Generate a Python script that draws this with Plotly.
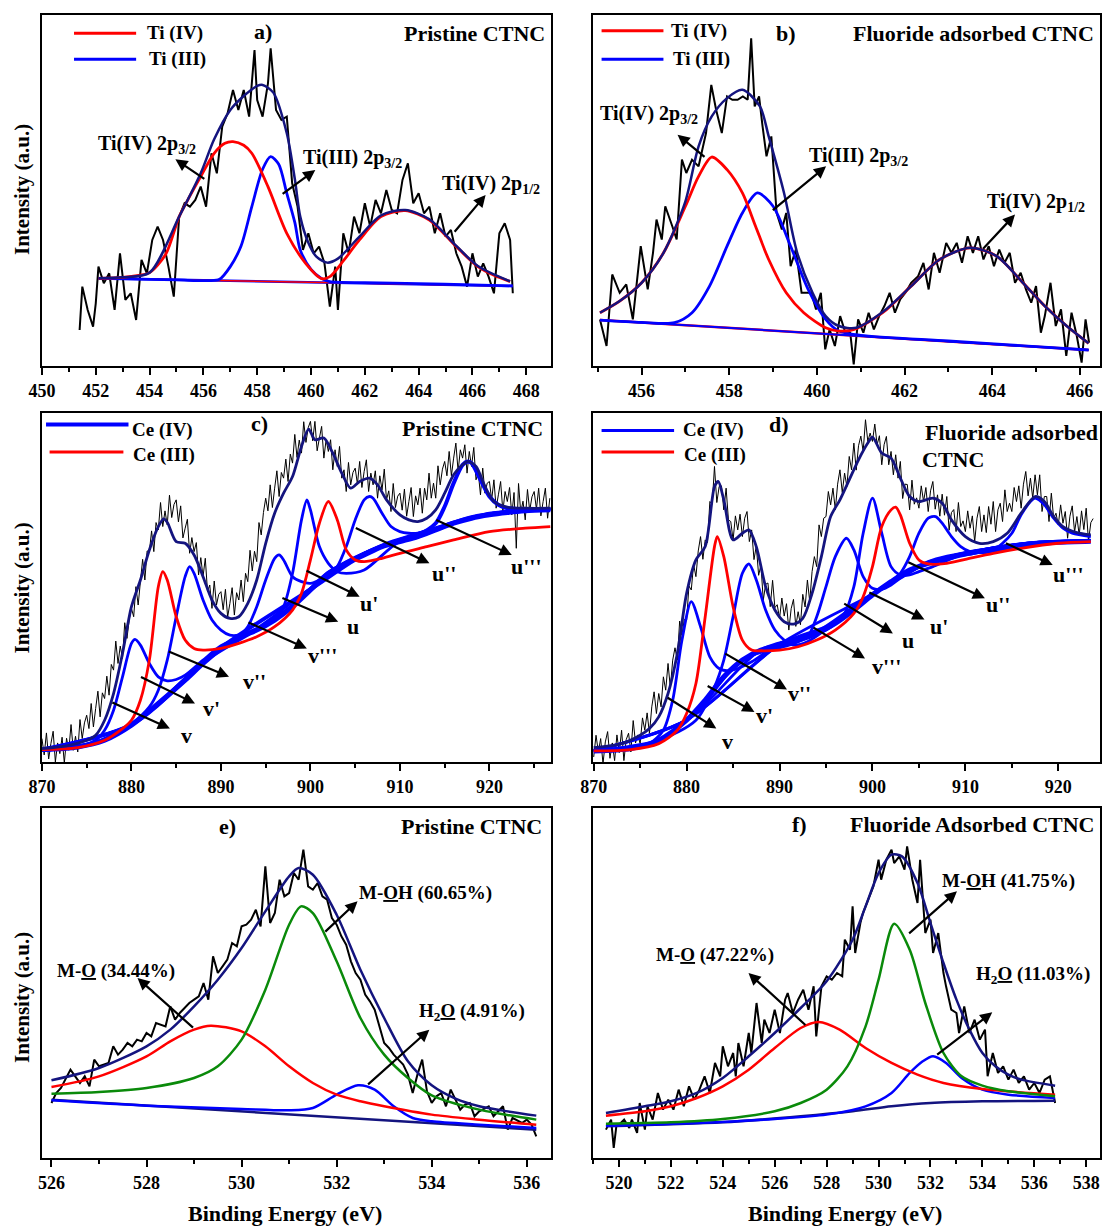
import plotly.graph_objects as go

FONT = "Liberation Serif"
RED = "#ff0000"
BLUE = "#0000ff"
NAVY = "#14147f"
GREEN = "#0a8a0a"
BLACK = "#000000"

# ---------------- Panel a : Ti 2p, pristine ----------------
A_RAW_X = [451.4, 451.5, 451.7, 451.9, 452.0, 452.1, 452.3, 452.5, 452.7, 452.9, 453.1, 453.3, 453.5, 453.7, 453.9,
           454.1, 454.3, 454.5, 454.7, 454.9, 455.1, 455.3, 455.5, 455.7, 455.9, 456.1, 456.3, 456.5, 456.7, 456.9,
           457.1, 457.3, 457.5, 457.7, 457.9, 458.0, 458.2, 458.4, 458.5, 458.7, 458.9, 459.1, 459.3, 459.5, 459.7,
           459.9, 460.1, 460.3, 460.5, 460.7, 460.9, 461.0, 461.2, 461.4, 461.6, 461.8, 462.0, 462.2, 462.4, 462.6,
           462.8, 463.0, 463.2, 463.4, 463.6, 463.8, 464.0, 464.2, 464.4, 464.6, 464.8, 465.0, 465.2, 465.4, 465.6,
           465.8, 466.0, 466.2, 466.4, 466.6, 466.8, 467.0, 467.2, 467.4, 467.5]
A_RAW_Y = [108, 238, 168, 118, 188, 298, 248, 278, 168, 338, 198, 218, 138, 318, 278,
           378, 418, 378, 298, 208, 448, 488, 478, 498, 538, 478, 638, 578, 718, 758,
           828, 768, 828, 748, 948, 798, 748, 848, 953, 768, 738, 748, 548, 478, 348,
           398, 338, 358, 308, 178, 298, 168, 398, 338, 448, 398, 488, 418, 498, 458,
           528, 468, 458, 558, 608, 488, 518, 458, 478, 398, 458, 388, 408, 338, 298,
           238, 338, 268, 308, 268, 218, 398, 428, 378, 218]
A_BG_X = [452.1, 467.5]
A_BG_Y = [263, 240]
A_TI4_X = [452.1, 453.0, 453.6, 454.0, 454.6, 455.1, 455.5, 455.9, 456.4, 456.8, 457.1, 457.5, 457.8, 458.4, 459.1,
           459.8, 460.4, 460.7, 461.2, 461.8, 462.6, 463.5, 464.4, 465.4, 466.2, 466.8, 467.4]
A_TI4_Y = [263, 266, 272, 280, 335, 448, 510, 568, 638, 668, 673, 662, 638, 538, 398,
           308, 262, 268, 315, 378, 448, 466, 438, 358, 298, 272, 253]
A_TI3_X = [452.1, 455.0, 456.2, 456.6, 457.0, 457.4, 457.8, 458.2, 458.5, 458.8, 459.1, 459.4, 459.6, 460.0, 460.4,
           460.7, 462.0, 464.0, 466.0, 467.5]
A_TI3_Y = [263, 258, 256, 260, 298, 360, 478, 590, 628, 605, 518, 430, 348, 290, 262,
           253, 250, 247, 243, 240]
A_ENV_X = [452.1, 453.0, 454.0, 455.1, 455.9, 456.4, 457.0, 457.5, 458.0, 458.2, 458.6, 459.1, 459.4, 459.6, 459.9,
           460.2, 460.6, 461.0, 461.8, 462.6, 463.5, 464.4, 465.4, 466.2, 467.4]
A_ENV_Y = [263, 266, 280, 448, 578, 680, 768, 810, 840, 843, 820, 698, 560, 448, 370,
           328, 310, 322, 388, 452, 468, 440, 360, 300, 254]

# ---------------- Panel b : Ti 2p, fluoride adsorbed ----------------
B_RAW_X = [455.05, 455.2, 455.33, 455.5, 455.65, 455.8, 455.98, 456.14, 456.26, 456.34, 456.46, 456.54, 456.7, 456.8,
           456.92, 457.02, 457.15, 457.3, 457.47, 457.59, 457.7, 457.83, 457.95, 458.07, 458.19, 458.31, 458.42, 458.5,
           458.58, 458.68, 458.76, 458.85, 458.96, 459.08, 459.2, 459.3, 459.4, 459.52, 459.65, 459.77, 459.87, 459.98,
           460.09, 460.19, 460.29, 460.41, 460.53, 460.65, 460.76, 460.84, 460.94, 461.06, 461.18, 461.3, 461.42, 461.54,
           461.66, 461.78, 461.9, 462.02, 462.15, 462.31, 462.43, 462.55, 462.67, 462.8, 462.95, 463.07, 463.19, 463.31,
           463.44, 463.56, 463.68, 463.8, 463.92, 464.04, 464.16, 464.28, 464.4, 464.52, 464.65, 464.77, 464.89, 465.0,
           465.11, 465.2, 465.33, 465.45, 465.57, 465.69, 465.81, 465.93, 466.04, 466.13, 466.21]
B_RAW_Y = [140, 60, 275, 220, 245, 140, 360, 230, 340, 440, 380, 480, 420, 380,
           620, 580, 620, 600, 700, 845, 770, 700, 810, 800, 800, 810, 800, 985,
           780, 810, 720, 630, 690, 460, 410, 460, 300, 350, 220, 220, 220, 170,
           220, 50, 110, 60, 150, 100, 100, 5, 140, 100, 160, 110, 150, 180,
           220, 160, 200, 220, 250, 270, 310, 230, 340, 280, 370, 340, 370, 310,
           390, 340, 390, 320, 360, 300, 350, 310, 340, 250, 280, 230, 190, 240,
           100, 150, 250, 120, 170, 30, 160, 90, 10, 140, 70]
B_BG_X = [455.05, 466.2]
B_BG_Y = [138, 48]
B_TI4_X = [455.05, 455.5, 456.0, 456.5, 457.0, 457.3, 457.6, 457.95, 458.3, 458.6, 458.9, 459.3, 459.7, 460.2, 460.5,
           460.85, 461.5, 462.15, 462.8, 463.5, 464.1, 464.7, 465.2, 465.7, 466.2]
B_TI4_Y = [160, 195, 250, 340, 480, 570, 628, 590, 520, 420, 320, 220, 160, 115, 105,
           110, 160, 240, 320, 355, 330, 250, 180, 120, 68]
B_TI3_X = [455.05, 456.0, 456.75, 457.15, 457.55, 457.95, 458.3, 458.64, 459.0, 459.4, 459.8, 460.2, 460.5, 461.0,
           463.0, 465.0, 466.2]
B_TI3_Y = [138, 131, 130, 160, 240, 360, 460, 520, 480, 360, 230, 140, 105, 92, 75, 58, 48]
B_ENV_X = [455.05, 455.5, 456.0, 456.5, 457.0, 457.3, 457.6, 457.95, 458.3, 458.7, 458.9, 459.25, 459.55, 459.9,
           460.2, 460.5, 460.9, 461.5, 462.15, 462.8, 463.5, 464.1, 464.7, 465.2, 465.7, 466.2]
B_ENV_Y = [160, 195, 250, 340, 495, 660, 750, 805, 830, 780, 690, 520, 340, 220,
           150, 120, 115, 162, 240, 320, 355, 330, 250, 180, 120, 68]

# ---------------- Panel c : Ce 3d, pristine ----------------
C_RAW_X = [870.0, 870.25, 870.5, 870.75, 871.0, 871.25, 871.5, 871.75, 872.0, 872.25, 872.5, 872.75,
           873.0, 873.25, 873.5, 873.75, 874.0, 874.25, 874.5, 874.75, 875.0, 875.25, 875.5, 875.75,
           876.0, 876.25, 876.5, 876.75, 877.0, 877.25, 877.5, 877.75, 878.0, 878.25, 878.5, 878.75,
           879.0, 879.25, 879.5, 879.75, 880.0, 880.25, 880.5, 880.75, 881.0, 881.25, 881.5, 881.75,
           882.0, 882.25, 882.5, 882.75, 883.0, 883.25, 883.5, 883.75, 884.0, 884.25, 884.5, 884.75,
           885.0, 885.25, 885.5, 885.75, 886.0, 886.25, 886.5, 886.75, 887.0, 887.25, 887.5, 887.75,
           888.0, 888.25, 888.5, 888.75, 889.0, 889.25, 889.5, 889.75, 890.0, 890.25, 890.5, 890.75,
           891.0, 891.25, 891.5, 891.75, 892.0, 892.25, 892.5, 892.75, 893.0, 893.25, 893.5, 893.75,
           894.0, 894.25, 894.5, 894.75, 895.0, 895.25, 895.5, 895.75, 896.0, 896.25, 896.5, 896.75,
           897.0, 897.25, 897.5, 897.75, 898.0, 898.25, 898.5, 898.75, 899.0, 899.25, 899.5, 899.75,
           900.0, 900.25, 900.5, 900.75, 901.0, 901.25, 901.5, 901.75, 902.0, 902.25, 902.5, 902.75,
           903.0, 903.25, 903.5, 903.75, 904.0, 904.25, 904.5, 904.75, 905.0, 905.25, 905.5, 905.75,
           906.0, 906.25, 906.5, 906.75, 907.0, 907.25, 907.5, 907.75, 908.0, 908.25, 908.5, 908.75,
           909.0, 909.25, 909.5, 909.75, 910.0, 910.25, 910.5, 910.75, 911.0, 911.25, 911.5, 911.75,
           912.0, 912.25, 912.5, 912.75, 913.0, 913.25, 913.5, 913.75, 914.0, 914.25, 914.5, 914.75,
           915.0, 915.25, 915.5, 915.75, 916.0, 916.25, 916.5, 916.75, 917.0, 917.25, 917.5, 917.75,
           918.0, 918.25, 918.5, 918.75, 919.0, 919.25, 919.5, 919.75, 920.0, 920.25, 920.5, 920.75,
           921.0, 921.25, 921.5, 921.75, 922.0, 922.25, 922.5, 922.75, 923.0, 923.25, 923.5, 923.75,
           924.0, 924.25, 924.5, 924.75, 925.0, 925.25, 925.5, 925.75, 926.0, 926.25, 926.5, 926.75]
C_RAW_Y = [70, 21, 87, 9, 55, 92, 0, 57, 25, 74, -3, 71,
           35, 112, 35, 77, 30, 127, 70, 117, 140, 100, 175, 105,
           160, 212, 135, 207, 190, 257, 200, 292, 275, 362, 295, 347,
           310, 417, 370, 427, 460, 435, 525, 470, 540, 607, 545, 632,
           630, 692, 630, 717, 695, 777, 705, 752, 710, 799, 732, 771,
           785, 719, 767, 671, 700, 727, 625, 672, 630, 657, 560, 612,
           555, 610, 510, 530, 460, 542, 470, 502, 510, 456, 517, 434,
           475, 522, 440, 507, 485, 545, 480, 565, 540, 634, 572, 631,
           600, 717, 680, 747, 790, 752, 830, 762, 820, 872, 795, 867,
           850, 907, 840, 922, 895, 981, 912, 964, 925, 1019, 957, 1001,
           1020, 962, 1020, 932, 970, 1005, 910, 965, 930, 965, 875, 935,
           885, 945, 850, 875, 810, 897, 830, 867, 880, 832, 900, 822,
           870, 905, 810, 865, 830, 872, 790, 857, 815, 877, 785, 812,
           750, 834, 762, 796, 805, 754, 817, 736, 780, 822, 735, 797,
           770, 820, 745, 820, 785, 865, 790, 835, 790, 887, 830, 877,
           900, 857, 930, 857, 910, 955, 870, 935, 910, 950, 865, 930,
           885, 942, 845, 867, 800, 880, 805, 835, 840, 785, 845, 760,
           800, 840, 750, 810, 780, 822, 740, 807, 640, 834, 747, 781,
           725, 816, 752, 794, 810, 757, 820, 737, 780, 820, 730, 790]
C_BG_X = [870, 874, 877, 880, 883, 886, 888, 890, 892, 894, 896, 898, 900, 902, 904, 906, 908, 910, 912, 914, 916,
          918, 920, 922, 924, 926.8]
C_BG_Y = [37, 45, 65, 110, 175, 245, 295, 340, 373, 395, 425, 465, 515, 565, 595, 620, 645, 660, 675, 695, 715,
          730, 740, 747, 752, 755]
C_CE3_X = [870, 874, 877, 879, 880, 881, 882, 883, 883.5, 884, 885, 886, 887, 888, 890, 892, 894, 896, 898, 899, 900,
           901, 902, 903, 904, 905, 906, 908, 910, 913, 916, 920, 924, 926.8]
C_CE3_Y = [37, 43, 65, 100, 125, 185, 305, 525, 570, 545, 435, 365, 340, 335, 340, 355, 375, 405, 455, 505, 605,
           715, 780, 725, 635, 605, 600, 610, 625, 645, 665, 690, 700, 705]
C_V_X = [870, 874, 876, 877, 878, 879, 880, 880.4, 881, 882, 883, 884, 885, 886, 888, 890, 894, 900, 906, 912, 918, 926.8]
C_V_Y = [37, 45, 65, 95, 155, 255, 355, 367, 350, 295, 255, 243, 247, 260, 305, 348, 400, 520, 625, 680, 735, 758]
C_V2_X = [870, 876, 880, 882, 883, 884, 885, 886, 886.5, 887, 888, 889, 890, 891, 892, 894, 898, 902, 908, 914, 920, 926.8]
C_V2_Y = [37, 60, 115, 165, 215, 305, 435, 555, 585, 565, 485, 425, 395, 380, 380, 398, 470, 568, 650, 700, 745, 757]
C_V3_X = [870, 880, 886, 890, 892, 893, 894, 895, 896, 896.5, 897, 898, 899, 900, 901, 902, 904, 908, 914, 920, 926.8]
C_V3_Y = [37, 112, 248, 345, 375, 405, 465, 545, 610, 620, 605, 555, 540, 535, 545, 565, 598, 648, 698, 743, 757]
C_U_X = [870, 880, 888, 894, 896, 897, 898, 899, 899.6, 900, 901, 902, 903, 904, 906, 910, 916, 922, 926.8]
C_U_Y = [37, 112, 298, 395, 425, 465, 565, 725, 785, 755, 645, 595, 570, 565, 575, 662, 717, 749, 757]
C_U2_X = [870, 880, 890, 896, 900, 902, 903, 904, 905, 906, 906.6, 907, 908, 909, 910, 911, 912, 914, 918, 922, 926.8]
C_U2_Y = [37, 112, 342, 427, 515, 555, 585, 645, 725, 785, 795, 790, 745, 705, 690, 685, 685, 695, 732, 749, 757]
C_U3_X = [870, 880, 890, 900, 906, 910, 912, 914, 915, 916, 917, 917.6, 918, 919, 920, 921, 922, 924, 926.8]
C_U3_Y = [37, 112, 342, 517, 622, 665, 680, 715, 765, 835, 890, 900, 895, 845, 795, 770, 760, 757, 757]
C_ENV_X = [870, 873, 875, 876, 877, 878, 879, 880, 881, 882, 883, 883.6, 884, 885, 886, 887, 888, 889, 890, 891, 892,
           893, 894, 895, 896, 897, 898, 899, 899.8, 900.5, 901.5, 902.5, 903.5, 904.5, 905.5, 906.6, 907.5, 908.5,
           910, 911, 912, 913, 914, 915, 916, 917, 917.6, 918.5, 919.5, 920.5, 922, 924, 926.8]
C_ENV_Y = [40, 50, 65, 80, 125, 205, 325, 465, 545, 635, 705, 728, 718, 660, 655, 620, 555, 485, 445, 430, 435,
           475, 545, 655, 745, 805, 855, 945, 997, 965, 970, 925, 865, 820, 840, 850, 830, 785,
           740, 725, 720, 730, 755, 805, 860, 890, 900, 885, 825, 780, 763, 760, 760]

# ---------------- Panel d : Ce 3d, fluoride adsorbed ----------------
D_RAW_X = [870.0, 870.25, 870.5, 870.75, 871.0, 871.25, 871.5, 871.75, 872.0, 872.25, 872.5, 872.75,
           873.0, 873.25, 873.5, 873.75, 874.0, 874.25, 874.5, 874.75, 875.0, 875.25, 875.5, 875.75,
           876.0, 876.25, 876.5, 876.75, 877.0, 877.25, 877.5, 877.75, 878.0, 878.25, 878.5, 878.75,
           879.0, 879.25, 879.5, 879.75, 880.0, 880.25, 880.5, 880.75, 881.0, 881.25, 881.5, 881.75,
           882.0, 882.25, 882.5, 882.75, 883.0, 883.25, 883.5, 883.75, 884.0, 884.25, 884.5, 884.75,
           885.0, 885.25, 885.5, 885.75, 886.0, 886.25, 886.5, 886.75, 887.0, 887.25, 887.5, 887.75,
           888.0, 888.25, 888.5, 888.75, 889.0, 889.25, 889.5, 889.75, 890.0, 890.25, 890.5, 890.75,
           891.0, 891.25, 891.5, 891.75, 892.0, 892.25, 892.5, 892.75, 893.0, 893.25, 893.5, 893.75,
           894.0, 894.25, 894.5, 894.75, 895.0, 895.25, 895.5, 895.75, 896.0, 896.25, 896.5, 896.75,
           897.0, 897.25, 897.5, 897.75, 898.0, 898.25, 898.5, 898.75, 899.0, 899.25, 899.5, 899.75,
           900.0, 900.25, 900.5, 900.75, 901.0, 901.25, 901.5, 901.75, 902.0, 902.25, 902.5, 902.75,
           903.0, 903.25, 903.5, 903.75, 904.0, 904.25, 904.5, 904.75, 905.0, 905.25, 905.5, 905.75,
           906.0, 906.25, 906.5, 906.75, 907.0, 907.25, 907.5, 907.75, 908.0, 908.25, 908.5, 908.75,
           909.0, 909.25, 909.5, 909.75, 910.0, 910.25, 910.5, 910.75, 911.0, 911.25, 911.5, 911.75,
           912.0, 912.25, 912.5, 912.75, 913.0, 913.25, 913.5, 913.75, 914.0, 914.25, 914.5, 914.75,
           915.0, 915.25, 915.5, 915.75, 916.0, 916.25, 916.5, 916.75, 917.0, 917.25, 917.5, 917.75,
           918.0, 918.25, 918.5, 918.75, 919.0, 919.25, 919.5, 919.75, 920.0, 920.25, 920.5, 920.75,
           921.0, 921.25, 921.5, 921.75, 922.0, 922.25, 922.5, 922.75, 923.0, 923.25, 923.5, 923.75]
D_RAW_Y = [15, 80, 30, 70, -5, 60, 91, 11, 57, 4, 81, 28,
           95, 4, 67, 86, 30, 124, 57, 81, 55, 132, 95, 147,
           85, 165, 210, 145, 205, 165, 255, 215, 295, 222, 305, 342,
           305, 422, 380, 427, 425, 527, 515, 592, 555, 632, 675, 607,
           665, 657, 780, 772, 885, 777, 825, 827, 755, 820, 725, 720,
           665, 737, 695, 742, 675, 730, 750, 660, 695, 606, 647, 559,
           590, 484, 532, 536, 465, 544, 462, 471, 430, 491, 437, 474,
           395, 459, 487, 406, 450, 411, 502, 464, 545, 480, 570, 615,
           585, 710, 675, 730, 735, 810, 770, 820, 755, 832, 875, 807,
           865, 825, 915, 875, 955, 874, 947, 976, 930, 1025, 960, 985,
           960, 1012, 950, 977, 890, 950, 975, 890, 930, 860, 920, 850,
           900, 789, 832, 831, 755, 844, 772, 791, 760, 827, 780, 822,
           750, 812, 840, 757, 800, 736, 802, 739, 795, 694, 747, 756,
           690, 777, 705, 722, 690, 752, 700, 737, 660, 730, 765, 690,
           740, 687, 765, 712, 780, 690, 755, 775, 720, 815, 750, 775,
           750, 822, 780, 827, 760, 832, 870, 797, 850, 790, 860, 800,
           860, 750, 795, 795, 720, 805, 730, 745, 710, 770, 715, 750,
           670, 736, 767, 689, 735, 679, 752, 696, 760, 661, 717, 729]
D_BG_X = [870, 874, 877, 880, 882, 884, 886, 888, 890, 892, 894, 896, 898, 900, 902, 904, 906, 908, 910, 912, 914,
          916, 918, 920, 923.5]
D_BG_Y = [33, 40, 65, 125, 185, 255, 305, 335, 350, 365, 385, 415, 455, 500, 540, 575, 595, 610, 623, 633, 643,
          650, 655, 658, 661]
D_CE3_X = [870, 874, 877, 879, 880, 881, 882, 883, 883.3, 884, 885, 886, 887, 888, 890, 892, 894, 896, 898, 899, 900,
           901, 902, 902.5, 903, 904, 905, 906, 908, 910, 913, 916, 920, 923.5]
D_CE3_Y = [33, 37, 55, 95, 145, 235, 435, 645, 675, 615, 465, 365, 335, 333, 335, 345, 365, 395, 445, 495, 585,
           705, 755, 763, 740, 655, 605, 593, 595, 607, 625, 640, 655, 660]
D_V_X = [870, 874, 876, 877.5, 878.5, 879.5, 880.5, 881.5, 882.5, 883.5, 884.5, 885.5, 887, 890, 894, 900, 906, 912,
         918, 923.5]
D_V_Y = [33, 42, 55, 95, 185, 365, 480, 405, 315, 280, 273, 280, 300, 355, 390, 505, 600, 637, 659, 663]
D_V2_X = [870, 877, 881, 883, 884, 885, 886, 886.7, 887.5, 888.5, 889.5, 890.5, 891.5, 893, 896, 900, 906, 912, 918,
          923.5]
D_V2_Y = [33, 65, 125, 225, 305, 435, 565, 593, 545, 455, 395, 365, 350, 360, 418, 503, 598, 636, 658, 663]
D_V3_X = [870, 880, 886, 891, 893, 894, 895, 896, 897.2, 898, 899, 900, 901, 902, 903, 906, 912, 918, 923.5]
D_V3_Y = [33, 126, 307, 350, 375, 435, 525, 615, 670, 635, 555, 520, 517, 530, 550, 597, 636, 658, 663]
D_U_X = [870, 880, 888, 895, 897, 898, 899, 900, 901, 902, 903, 904, 905, 906.5, 910, 916, 923.5]
D_U_Y = [33, 126, 336, 395, 445, 525, 685, 790, 685, 585, 560, 560, 570, 585, 625, 652, 663]
D_U2_X = [870, 880, 890, 896, 900, 902, 903, 904, 905, 906, 906.8, 907.5, 908.5, 909.5, 910.5, 912, 914, 918, 923.5]
D_U2_Y = [33, 126, 352, 417, 500, 540, 565, 615, 685, 730, 735, 715, 675, 645, 630, 627, 637, 657, 663]
D_U3_X = [870, 880, 890, 900, 906, 911, 913, 914, 915, 916, 917, 917.5, 918.5, 919.5, 920.5, 921.5, 923.5]
D_U3_Y = [33, 126, 352, 502, 597, 625, 635, 655, 685, 740, 780, 790, 770, 730, 700, 685, 675]
D_ENV_X = [870, 873, 875, 876, 877, 878, 879, 880, 881, 882, 883, 883.4, 884, 885, 886, 886.7, 887.5, 888.5, 889.5,
           890.5, 891.5, 892.5, 893.5, 894.5, 895.5, 896.5, 897.5, 898.5, 899.5, 900, 901, 902, 903, 904, 905, 906.5,
           907.5, 908.5, 910, 911.5, 913, 914.5, 916, 917.5, 918.5, 919.5, 920.5, 922, 923.5]
D_ENV_Y = [43, 55, 80, 100, 135, 205, 325, 505, 605, 645, 825, 840, 785, 665, 685, 695, 645, 525, 455,
           420, 413, 430, 505, 615, 735, 785, 845, 905, 955, 973, 925, 910, 850, 795, 780, 790,
           775, 725, 675, 655, 660, 685, 745, 795, 780, 735, 705, 687, 680]

# ---------------- Panel e : O 1s, pristine ----------------
E_RAW_X = [526.0, 526.1, 526.2, 526.4, 526.5, 526.6, 526.7, 526.8, 526.9, 527.0, 527.2, 527.3, 527.4, 527.5, 527.6,
           527.7, 527.8, 527.9, 528.0, 528.1, 528.2, 528.4, 528.5, 528.6, 528.7, 528.9, 529.0, 529.1, 529.2, 529.3,
           529.4, 529.5, 529.6, 529.7, 529.8, 529.9, 530.0, 530.1, 530.2, 530.3, 530.4, 530.5, 530.6, 530.7, 530.8,
           530.9, 531.0, 531.1, 531.2, 531.3, 531.4, 531.5, 531.6, 531.7, 531.8, 531.9, 532.0, 532.1, 532.2, 532.3,
           532.4, 532.5, 532.6, 532.7, 532.8, 532.9, 533.0, 533.1, 533.2, 533.3, 533.4, 533.5, 533.6, 533.7, 533.8,
           533.9, 534.0, 534.1, 534.2, 534.3, 534.4, 534.5, 534.6, 534.7, 534.8, 534.9, 535.0, 535.2, 535.3, 535.5,
           535.6, 535.7, 535.9, 536.0, 536.1, 536.2]
E_RAW_Y = [165, 195, 210, 265, 245, 225, 245, 215, 295, 275, 285, 335, 310, 325, 345,
           335, 355, 350, 375, 365, 405, 395, 455, 415, 435, 465, 475, 485, 525, 475,
           605, 555, 575, 595, 645, 635, 695, 700, 715, 745, 695, 875, 705, 735, 835,
           785, 795, 855, 835, 925, 815, 805, 825, 785, 775, 720, 700, 665, 640, 590,
           555, 535, 490, 470, 445, 395, 345, 330, 310, 295, 280, 250, 195, 250, 295,
           200, 165, 185, 195, 155, 205, 175, 145, 160, 165, 125, 140, 155, 125, 155,
           85, 120, 105, 115, 100, 65]
E_BG_X = [526.0, 536.2]
E_BG_Y = [175, 85]
E_MO_X = [526, 527, 528, 528.5, 529, 529.35, 530, 530.5, 531, 531.5, 532, 532.5, 533, 534, 535, 536.2]
E_MO_Y = [213, 245, 305, 350, 385, 397, 380, 335, 275, 225, 190, 170, 155, 130, 115, 100]
E_MOH_X = [526, 527, 528, 529, 529.5, 530, 530.5, 531, 531.25, 531.5, 532, 532.5, 533, 533.5, 534, 535, 536.2]
E_MOH_Y = [193, 198, 210, 240, 275, 355, 505, 700, 755, 735, 590, 420, 310, 240, 188, 145, 115]
E_H2O_X = [526, 528, 530, 531, 531.5, 532, 532.45, 532.8, 533.2, 533.6, 534, 535, 536.2]
E_H2O_Y = [173, 157, 147, 143, 150, 190, 218, 205, 155, 120, 110, 100, 90]
E_ENV_X = [526, 527, 528, 528.5, 529, 529.5, 530, 530.5, 531, 531.2, 531.5, 532, 532.5, 533, 533.5, 534, 534.5,
           535, 535.5, 536.2]
E_ENV_Y = [233, 270, 335, 385, 455, 535, 630, 740, 845, 870, 850, 730, 565, 420, 290, 218, 178, 155, 142, 127]

# ---------------- Panel f : O 1s, fluoride adsorbed ----------------
F_RAW_X = [519.5, 519.7, 519.8, 519.9, 520.0, 520.2, 520.4, 520.5, 520.7, 520.8, 521.0, 521.1, 521.3, 521.5, 521.7,
           521.9, 522.1, 522.3, 522.5, 522.7, 522.9, 523.1, 523.3, 523.5, 523.7, 523.9, 524.0, 524.2, 524.4, 524.5,
           524.6, 524.8, 525.0, 525.1, 525.3, 525.5, 525.6, 525.8, 526.0, 526.2, 526.4, 526.5, 526.7, 526.9, 527.1,
           527.3, 527.5, 527.6, 527.8, 528.0, 528.2, 528.4, 528.6, 528.7, 528.9, 529.0, 529.1, 529.3, 529.4, 529.6,
           529.8, 530.0, 530.1, 530.3, 530.5, 530.6, 530.8, 531.0, 531.1, 531.3, 531.5, 531.6, 531.8, 532.0, 532.1,
           532.3, 532.5, 532.6, 532.8, 533.0, 533.1, 533.3, 533.5, 533.7, 533.9, 534.1, 534.2, 534.4, 534.6, 534.8,
           535.0, 535.2, 535.4, 535.6, 535.8, 536.0, 536.2, 536.4, 536.6, 536.8]
F_RAW_Y = [85, 115, 30, 95, 100, 115, 90, 115, 75, 165, 85, 155, 115, 195, 145,
           175, 145, 205, 155, 215, 175, 205, 245, 195, 285, 245, 335, 275, 315, 245,
           345, 275, 375, 315, 465, 345, 415, 375, 445, 375, 475, 495, 435, 475, 505,
           445, 515, 365, 515, 545, 535, 555, 545, 655, 625, 755, 615, 705, 735, 775,
           815, 895, 835, 895, 925, 885, 905, 865, 935, 835, 765, 895, 675, 715, 615,
           675, 555, 515, 445, 435, 375, 455, 375, 415, 355, 385, 245, 315, 255, 275,
           235, 265, 225, 245, 205, 225, 195, 235, 245, 165]
F_BG_X = [519.5, 524, 527, 529, 530.5, 532, 534, 536.8]
F_BG_Y = [95, 107, 125, 140, 155, 165, 170, 172]
F_MO_X = [519.5, 521, 522, 523, 524, 525, 526, 527, 527.7, 528.5, 529.5, 530.5, 531.5, 532.5, 534, 536.8]
F_MO_Y = [127, 140, 155, 180, 215, 265, 330, 390, 408, 385, 330, 285, 250, 225, 207, 190]
F_MOH_X = [519.5, 522, 524, 526, 527, 528, 528.8, 529.5, 530, 530.6, 531.2, 531.8, 532.5, 533.2, 534, 535, 536.8]
F_MOH_Y = [103, 107, 117, 140, 165, 205, 275, 395, 535, 703, 625, 465, 315, 245, 217, 200, 185]
F_H2O_X = [519.5, 523, 526, 528, 529.5, 530.5, 531.2, 531.7, 532.1, 532.6, 533.2, 534, 535, 536.8]
F_H2O_Y = [97, 105, 117, 130, 155, 195, 255, 290, 305, 285, 240, 205, 190, 180]
F_ENV_X = [519.5, 521, 522, 523, 524, 525, 526, 527, 528, 529, 529.5, 530, 530.5, 530.9, 531.5, 532, 532.5, 533,
           533.5, 534, 534.5, 535, 535.5, 536.8]
F_ENV_Y = [135, 155, 170, 195, 240, 305, 375, 450, 530, 655, 755, 855, 910, 905, 825, 705, 585, 475,
           385, 315, 275, 250, 235, 217]

# ---------------- figure ----------------
TICK_FONT = dict(family=FONT, size=18, color="black", weight="bold")
fig = go.Figure()


def sfx(n):
    return "" if n == 1 else str(n)


def add_line(n, x, y, color, width, shape="spline"):
    line = dict(color=color, width=width, shape=shape)
    if shape == "spline":
        line["smoothing"] = 0.8
    fig.add_trace(go.Scatter(x=x, y=y, mode="lines", xaxis="x" + sfx(n), yaxis="y" + sfx(n),
                             line=line, showlegend=False, hoverinfo="skip"))


# panel a
add_line(1, A_RAW_X, A_RAW_Y, BLACK, 2, "linear")
add_line(1, A_BG_X, A_BG_Y, BLUE, 2.5, "linear")
add_line(1, A_BG_X, A_BG_Y, RED, 1.5, "linear")
add_line(1, A_TI3_X, A_TI3_Y, BLUE, 2.8)
add_line(1, A_TI4_X, A_TI4_Y, RED, 2.8)
add_line(1, A_ENV_X, A_ENV_Y, NAVY, 2.5)
# panel b
add_line(2, B_RAW_X, B_RAW_Y, BLACK, 2, "linear")
add_line(2, B_BG_X, B_BG_Y, RED, 2.5, "linear")
add_line(2, B_BG_X, B_BG_Y, BLUE, 2, "linear")
add_line(2, B_TI3_X, B_TI3_Y, BLUE, 2.8)
add_line(2, B_TI4_X, B_TI4_Y, RED, 2.8)
add_line(2, B_ENV_X, B_ENV_Y, NAVY, 2.5)
# panel c
add_line(3, C_RAW_X, C_RAW_Y, BLACK, 1, "linear")
add_line(3, C_BG_X, C_BG_Y, BLUE, 5)
for xs, ys in [(C_V_X, C_V_Y), (C_V2_X, C_V2_Y), (C_V3_X, C_V3_Y), (C_U_X, C_U_Y), (C_U2_X, C_U2_Y)]:
    add_line(3, xs, ys, BLUE, 2.8)
add_line(3, C_U3_X, C_U3_Y, BLUE, 4)
add_line(3, C_CE3_X, C_CE3_Y, RED, 2.8)
add_line(3, C_ENV_X, C_ENV_Y, NAVY, 2.8)
# panel d
add_line(4, D_RAW_X, D_RAW_Y, BLACK, 1, "linear")
add_line(4, D_BG_X, D_BG_Y, BLUE, 5)
for xs, ys in [(D_V_X, D_V_Y), (D_V2_X, D_V2_Y), (D_V3_X, D_V3_Y), (D_U_X, D_U_Y), (D_U2_X, D_U2_Y), (D_U3_X, D_U3_Y)]:
    add_line(4, xs, ys, BLUE, 2.8)
add_line(4, D_CE3_X, D_CE3_Y, RED, 2.8)
add_line(4, D_ENV_X, D_ENV_Y, NAVY, 2.8)
# panel e
add_line(5, E_RAW_X, E_RAW_Y, BLACK, 2, "linear")
add_line(5, E_BG_X, E_BG_Y, NAVY, 2.5, "linear")
add_line(5, E_H2O_X, E_H2O_Y, BLUE, 2.5)
add_line(5, E_MO_X, E_MO_Y, RED, 2.5)
add_line(5, E_MOH_X, E_MOH_Y, GREEN, 2.5)
add_line(5, E_ENV_X, E_ENV_Y, NAVY, 2.5)
# panel f
add_line(6, F_RAW_X, F_RAW_Y, BLACK, 2, "linear")
add_line(6, F_BG_X, F_BG_Y, NAVY, 2.5)
add_line(6, F_H2O_X, F_H2O_Y, BLUE, 2.5)
add_line(6, F_MO_X, F_MO_Y, RED, 2.5)
add_line(6, F_MOH_X, F_MOH_Y, GREEN, 2.5)
add_line(6, F_ENV_X, F_ENV_Y, NAVY, 2.5)

# ---------------- axes ----------------
LEFT = [0.0380, 0.4991]
RIGHT = [0.5371, 0.9964]
ROWS = [[0.7015, 0.9878], [0.3785, 0.6631], [0.0555, 0.3409]]
AXES = {
    1: dict(xd=LEFT, yd=ROWS[0], xr=[450, 468.92], yr=[0, 1053], dt=2, mt=1),
    2: dict(xd=RIGHT, yd=ROWS[0], xr=[454.89, 466.46], yr=[0, 1055], dt=2, mt=1),
    3: dict(xd=LEFT, yd=ROWS[1], xr=[870, 926.88], yr=[0, 1045], dt=10, mt=5),
    4: dict(xd=RIGHT, yd=ROWS[1], xr=[869.92, 924.49], yr=[0, 1045], dt=10, mt=5),
    5: dict(xd=LEFT, yd=ROWS[2], xr=[525.8, 536.51], yr=[0, 1050], dt=2, mt=1),
    6: dict(xd=RIGHT, yd=ROWS[2], xr=[519.0, 538.53], yr=[0, 1050], dt=2, mt=1),
}
layout = dict(width=1104, height=1226, margin=dict(l=0, r=0, t=0, b=0, pad=0, autoexpand=False),
              paper_bgcolor="white", plot_bgcolor="white", showlegend=False)
for n, a in AXES.items():
    layout["xaxis" + sfx(n)] = dict(domain=a["xd"], range=a["xr"], anchor="y" + sfx(n), automargin=False,
                                    showline=True, mirror=True, linecolor="black", linewidth=2,
                                    ticks="outside", ticklen=7, tickwidth=2, tickcolor="black",
                                    tick0=0, dtick=a["dt"], tickfont=TICK_FONT,
                                    minor=dict(dtick=a["mt"], tick0=0, ticks="outside", ticklen=4,
                                               tickwidth=1.5, tickcolor="black"),
                                    showgrid=False, zeroline=False, fixedrange=True)
    layout["yaxis" + sfx(n)] = dict(domain=a["yd"], range=a["yr"], anchor="x" + sfx(n), automargin=False,
                                    showline=True, mirror=True, linecolor="black", linewidth=2,
                                    showticklabels=False, ticks="", showgrid=False, zeroline=False,
                                    fixedrange=True)
fig.update_layout(**layout)

ann = []
shapes = []


def txt(n, x, y, s, size=20, xanchor="center", ref="data"):
    if ref == "data":
        xr, yr = "x" + sfx(n), "y" + sfx(n)
    else:
        xr, yr = "x" + sfx(n) + " domain", "y" + sfx(n) + " domain"
    ann.append(dict(x=x, y=y, xref=xr, yref=yr, text="<b>" + s + "</b>", showarrow=False,
                    xanchor=xanchor, yanchor="middle", font=dict(family=FONT, size=size, color="black")))


def arrow(n, head, tail):
    ann.append(dict(x=head[0], y=head[1], ax=tail[0], ay=tail[1], xref="x" + sfx(n), yref="y" + sfx(n),
                    axref="x" + sfx(n), ayref="y" + sfx(n), text="", showarrow=True,
                    arrowhead=2, arrowsize=1.1, arrowwidth=2.2, arrowcolor="black", standoff=0))


def legend_line(n, x0, x1, y, color, width=3):
    shapes.append(dict(type="line", xref="x" + sfx(n) + " domain", yref="y" + sfx(n) + " domain",
                       x0=x0, x1=x1, y0=y, y1=y, line=dict(color=color, width=width)))


# panel a text
legend_line(1, 0.063, 0.185, 0.948, RED)
legend_line(1, 0.063, 0.185, 0.874, BLUE)
txt(1, 0.202, 0.948, "Ti (IV)", 19, "left", "dom")
txt(1, 0.206, 0.874, "Ti (III)", 19, "left", "dom")
txt(1, 0.435, 0.953, "a)", 22, "center", "dom")
txt(1, 0.992, 0.948, "Pristine CTNC", 22, "right", "dom")
txt(1, 453.89, 663, "Ti(IV) 2p<sub>3/2</sub>")
txt(1, 461.56, 623, "Ti(III) 2p<sub>3/2</sub>")
txt(1, 466.69, 543, "Ti(IV) 2p<sub>1/2</sub>")
arrow(1, (454.96, 620), (456.09, 558))
arrow(1, (460.16, 588), (458.89, 513))
arrow(1, (466.49, 513), (465.29, 398))

# panel b text
legend_line(2, 0.017, 0.139, 0.955, RED)
legend_line(2, 0.017, 0.139, 0.874, BLUE)
txt(2, 0.150, 0.955, "Ti (IV)", 19, "left", "dom")
txt(2, 0.153, 0.874, "Ti (III)", 19, "left", "dom")
txt(2, 0.380, 0.948, "b)", 22, "center", "dom")
txt(2, 0.993, 0.948, "Fluoride adsorbed CTNC", 22, "right", "dom")
txt(2, 456.18, 755, "Ti(IV) 2p<sub>3/2</sub>")
txt(2, 460.94, 630, "Ti(III) 2p<sub>3/2</sub>")
txt(2, 465.01, 490, "Ti(IV) 2p<sub>1/2</sub>")
arrow(2, (456.82, 695), (457.47, 625))
arrow(2, (460.21, 600), (458.96, 465))
arrow(2, (464.52, 455), (463.76, 348))

# panel c text
legend_line(3, 0.008, 0.170, 0.967, BLUE, 4)
legend_line(3, 0.015, 0.160, 0.888, RED)
txt(3, 0.172, 0.950, "Ce (IV)", 19, "left", "dom")
txt(3, 0.174, 0.880, "Ce (III)", 19, "left", "dom")
txt(3, 0.427, 0.969, "c)", 22, "center", "dom")
txt(3, 0.989, 0.957, "Pristine CTNC", 22, "right", "dom")
C_LABELS = [("v", 886.1, 80, (884.3, 100), (877.7, 180)),
            ("v'", 888.9, 160, (887.1, 175), (880.9, 257)),
            ("v''", 893.7, 240, (890.9, 255), (884.0, 333)),
            ("v'''", 901.3, 320, (899.6, 340), (892.9, 420)),
            ("u", 904.7, 405, (903.1, 420), (896.7, 493)),
            ("u'", 906.5, 475, (905.5, 495), (899.4, 575)),
            ("u''", 914.9, 565, (913.3, 595), (904.9, 703)),
            ("u'''", 924.1, 585, (922.5, 620), (913.9, 727))]
for s, lx, ly, head, tail in C_LABELS:
    txt(3, lx, ly, s, 22)
    arrow(3, head, tail)

# panel d text
legend_line(4, 0.017, 0.160, 0.950, BLUE)
legend_line(4, 0.017, 0.160, 0.888, RED)
txt(4, 0.173, 0.950, "Ce (IV)", 19, "left", "dom")
txt(4, 0.176, 0.880, "Ce (III)", 19, "left", "dom")
txt(4, 0.366, 0.967, "d)", 22, "center", "dom")
txt(4, 1.0, 0.943, "Fluoride adsorbed", 22, "right", "dom")
txt(4, 0.711, 0.866, "CTNC", 22, "center", "dom")
D_LABELS = [("v", 884.4, 60, (883.2, 100), (877.8, 195)),
            ("v'", 888.4, 140, (887.3, 150), (882.1, 230)),
            ("v''", 892.2, 205, (890.8, 217), (884.0, 327)),
            ("v'''", 901.5, 285, (899.2, 310), (893.5, 405)),
            ("u", 903.8, 365, (902.2, 385), (896.8, 477)),
            ("u'", 907.2, 405, (905.6, 427), (899.5, 510)),
            ("u''", 913.5, 473, (912.1, 490), (903.7, 600)),
            ("u'''", 921.1, 560, (919.4, 590), (914.2, 657))]
for s, lx, ly, head, tail in D_LABELS:
    txt(4, lx, ly, s, 22)
    arrow(4, head, tail)

# panel e text
txt(5, 0.364, 0.946, "e)", 22, "center", "dom")
txt(5, 0.986, 0.946, "Pristine CTNC", 22, "right", "dom")
txt(5, 533.87, 795, "M-<u>O</u>H (60.65%)", 19)
txt(5, 527.36, 560, "M-<u>O</u> (34.44%)", 19)
txt(5, 534.84, 437, "H<sub>2</sub><u>O</u> (4.91%)", 19)
arrow(5, (532.44, 770), (531.73, 675))
arrow(5, (527.81, 540), (529.01, 387))
arrow(5, (533.95, 385), (532.63, 217))

# panel f text
txt(6, 0.408, 0.952, "f)", 22, "center", "dom")
txt(6, 0.993, 0.952, "Fluoride Adsorbed CTNC", 22, "right", "dom")
txt(6, 534.99, 830, "M-<u>O</u>H (41.75%)", 19)
txt(6, 523.70, 610, "M-<u>O</u> (47.22%)", 19)
txt(6, 535.95, 550, "H<sub>2</sub><u>O</u> (11.03%)", 19)
arrow(6, (533.02, 800), (531.12, 670))
arrow(6, (524.99, 555), (527.24, 395))
arrow(6, (534.38, 437), (532.20, 307))

# axis titles
for yc in [0.845, 0.52, 0.186]:
    ann.append(dict(x=22 / 1104, y=yc, xref="paper", yref="paper", text="<b>Intensity (a.u.)</b>",
                    showarrow=False, textangle=-90, xanchor="center", yanchor="middle",
                    font=dict(family=FONT, size=21, color="black")))
for xc in [0.258, 0.765]:
    ann.append(dict(x=xc, y=0.0106, xref="paper", yref="paper", text="<b>Binding Energy (eV)</b>",
                    showarrow=False, xanchor="center", yanchor="middle",
                    font=dict(family=FONT, size=22, color="black")))

fig.update_layout(annotations=ann, shapes=shapes)
fig.write_html("out.html", config={"displayModeBar": False},
               post_script="document.body.style.margin='0';document.body.style.overflow='hidden';")
